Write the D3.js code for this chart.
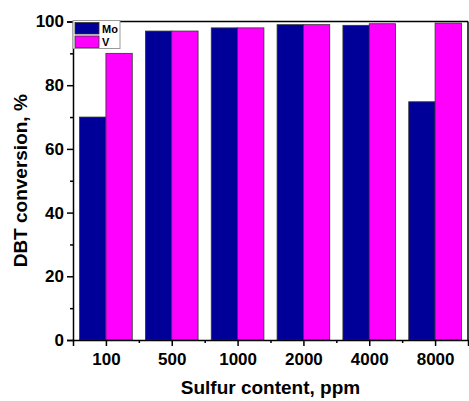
<!DOCTYPE html>
<html><head><meta charset="utf-8">
<script src="https://cdn.jsdelivr.net/npm/d3@7"></script>
<style>body{margin:0;background:#fff}svg{display:block}text{font-family:"Liberation Sans",Arial,sans-serif;font-weight:bold}</style>
</head><body>
<svg id="c" width="469" height="401"></svg>
<script>
const categories = ["100","500","1000","2000","4000","8000"];
const seriesNames = ["Mo","V"];
const moValues = [70, 97, 98, 99, 98.8, 74.8];
const vValues = [90, 97, 98, 99, 99.3, 99.5];
const yTicks = [0,20,40,60,80,100];
const yMinorTicks = [10,30,50,70,90];
const colors = ["#000099","#ff00ff"];

const svg = d3.select("#c");
const L=73, R=468, T=21.5, B=340;
const x = d3.scaleLinear().domain([0.5, categories.length+0.5]).range([L, R]);
const y = d3.scaleLinear().domain([0,100]).range([B, T]);
const step = x(2)-x(1);
const bw = step*0.4;

const series = [moValues, vValues];
series.forEach((vals, si) => {
  svg.append("g").selectAll("rect").data(vals).join("rect")
    .attr("x", (d,i)=> x(i+1) - bw + si*bw)
    .attr("y", d=>y(d))
    .attr("width", bw)
    .attr("height", d=>y(0)-y(d))
    .attr("fill", colors[si])
    .attr("stroke", "#333")
    .attr("stroke-width", 0.8);
});

// frame
svg.append("line").attr("x1",L).attr("x2",R).attr("y1",T).attr("y2",T).attr("stroke","#000").attr("stroke-width",1.5);
svg.append("line").attr("x1",R).attr("x2",R).attr("y1",T).attr("y2",B).attr("stroke","#000").attr("stroke-width",1.5);

// y axis
const yAxis = d3.axisLeft(y).tickValues(yTicks).tickSize(6).tickPadding(3).tickFormat(d3.format("d"));
const gy = svg.append("g").attr("transform",`translate(${L},0)`).call(yAxis);
gy.select(".domain").attr("stroke-width",1.5);
gy.selectAll(".tick line").attr("stroke-width",1.5);
gy.selectAll("text").style("font-size","17px").attr("fill","#000");
const gym = svg.append("g").attr("transform",`translate(${L},0)`).call(d3.axisLeft(y).tickValues(yMinorTicks).tickSize(3).tickFormat(""));
gym.select(".domain").remove();
gym.selectAll(".tick line").attr("stroke-width",1.5);

// x axis
const xAxis = d3.axisBottom(x).tickValues(d3.range(1,categories.length+1)).tickSize(6).tickPadding(7).tickFormat((d)=>categories[d-1]);
const gx = svg.append("g").attr("transform",`translate(0,${B})`).call(xAxis);
gx.select(".domain").attr("stroke-width",1.5);
gx.selectAll(".tick line").attr("stroke-width",1.5);
gx.selectAll("text").style("font-size","17px").attr("fill","#000");
const gxm = svg.append("g").attr("transform",`translate(0,${B})`).call(d3.axisBottom(x).tickValues(d3.range(1.5,categories.length+0.5,1)).tickSize(3).tickFormat(""));
gxm.select(".domain").remove();
gxm.selectAll(".tick line").attr("stroke-width",1.5);

// titles
svg.append("text").attr("x",(L+R)/2).attr("y",394).attr("text-anchor","middle").style("font-size","19px").text("Sulfur content, ppm");
svg.append("text").attr("transform",`translate(27,${(T+B)/2}) rotate(-90)`).attr("text-anchor","middle").style("font-size","19px").text("DBT conversion, %");

// legend
const lg = svg.append("g");
lg.append("rect").attr("x",73).attr("y",20.5).attr("width",47).attr("height",28).attr("fill","#fff").attr("stroke","#999").attr("stroke-width",1);
seriesNames.forEach((n,i)=>{
  lg.append("rect").attr("x",75).attr("y",22.5+i*13.5).attr("width",24).attr("height",11.5).attr("fill",colors[i]).attr("stroke","#333").attr("stroke-width",0.8);
  lg.append("text").attr("x",102).attr("y",32.5+i*13.5).style("font-size","11px").text(n);
});
</script>
</body></html>
